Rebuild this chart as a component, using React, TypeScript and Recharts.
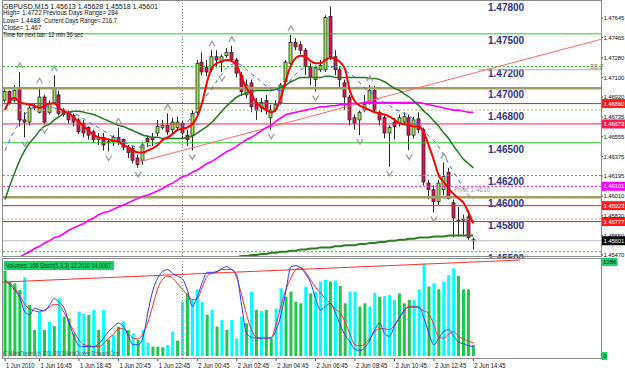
import React from 'react';
import { ComposedChart, Bar, Line, Scatter, XAxis, YAxis, ReferenceLine, Cell } from 'recharts';

const FONT = '"Liberation Sans", Arial, sans-serif';

// GBPUSD M15, bars from 1 Jun 15:00 to 2 Jun 14:45
const openP = [
  1.4689, 1.4697, 1.4689, 1.4700, 1.4671, 1.4669, 1.4682, 1.4678, 1.4692, 1.4678,
  1.4687, 1.4694, 1.4680, 1.4677, 1.4675, 1.4671, 1.4668, 1.4664, 1.4660, 1.4653,
  1.4655, 1.4651, 1.4651, 1.4655, 1.4653, 1.4646, 1.4645, 1.4636, 1.4634, 1.4654,
  1.4655, 1.4659, 1.4664, 1.4666, 1.4662, 1.4664, 1.4668, 1.4657, 1.4657, 1.4678,
  1.4724, 1.4719, 1.4717, 1.4729, 1.4724, 1.4730, 1.4733, 1.4726, 1.4712, 1.4694,
  1.4705, 1.4687, 1.4682, 1.4689, 1.4673, 1.4680, 1.4687, 1.4706, 1.4723, 1.4742,
  1.4740, 1.4735, 1.4720, 1.4708, 1.4717, 1.4717, 1.4766, 1.4729, 1.4717, 1.4705,
  1.4692, 1.4673, 1.4671, 1.4680, 1.4687, 1.4698, 1.4678, 1.4673, 1.4659, 1.4669,
  1.4668, 1.4669, 1.4673, 1.4657, 1.4672, 1.4662, 1.4613, 1.4607, 1.4596, 1.4607,
  1.4623, 1.4595, 1.4579, 1.4580, 1.4582, 1.4561,
];
const highP = [
  1.4700, 1.4698, 1.4703, 1.4715, 1.4678, 1.4684, 1.4686, 1.4701, 1.4694, 1.4689,
  1.4712, 1.4698, 1.4682, 1.4680, 1.4677, 1.4673, 1.4671, 1.4665, 1.4662, 1.4659,
  1.4659, 1.4654, 1.4657, 1.4664, 1.4654, 1.4648, 1.4647, 1.4639, 1.4650, 1.4657,
  1.4659, 1.4671, 1.4671, 1.4677, 1.4673, 1.4674, 1.4671, 1.4662, 1.4680, 1.4726,
  1.4733, 1.4726, 1.4735, 1.4735, 1.4731, 1.4737, 1.4739, 1.4728, 1.4715, 1.4708,
  1.4708, 1.4691, 1.4691, 1.4694, 1.4685, 1.4689, 1.4705, 1.4726, 1.4749, 1.4746,
  1.4743, 1.4737, 1.4723, 1.4721, 1.4726, 1.4767, 1.4775, 1.4735, 1.4719, 1.4708,
  1.4694, 1.4676, 1.4680, 1.4694, 1.4703, 1.4702, 1.4680, 1.4676, 1.4666, 1.4673,
  1.4676, 1.4678, 1.4676, 1.4674, 1.4678, 1.4664, 1.4616, 1.4611, 1.4616, 1.4632,
  1.4627, 1.4598, 1.4591, 1.4584, 1.4588, 1.4563,
];
const lowP = [
  1.4687, 1.4685, 1.4687, 1.4665, 1.4655, 1.4666, 1.4680, 1.4677, 1.4667, 1.4676,
  1.4686, 1.4675, 1.4674, 1.4668, 1.4665, 1.4658, 1.4655, 1.4653, 1.4650, 1.4648,
  1.4643, 1.4642, 1.4647, 1.4648, 1.4643, 1.4636, 1.4631, 1.4627, 1.4630, 1.4646,
  1.4647, 1.4656, 1.4662, 1.4657, 1.4659, 1.4662, 1.4653, 1.4647, 1.4643, 1.4676,
  1.4712, 1.4711, 1.4715, 1.4719, 1.4715, 1.4728, 1.4724, 1.4710, 1.4693, 1.4691,
  1.4678, 1.4671, 1.4678, 1.4676, 1.4662, 1.4678, 1.4685, 1.4703, 1.4721, 1.4735,
  1.4731, 1.4712, 1.4703, 1.4697, 1.4715, 1.4715, 1.4726, 1.4712, 1.4700, 1.4680,
  1.4666, 1.4662, 1.4657, 1.4678, 1.4685, 1.4678, 1.4666, 1.4654, 1.4628, 1.4653,
  1.4665, 1.4667, 1.4643, 1.4654, 1.4659, 1.4611, 1.4598, 1.4586, 1.4593, 1.4602,
  1.4598, 1.4563, 1.4564, 1.4564, 1.4561, 1.4552,
];
const closeP = [
  1.4697, 1.4687, 1.4698, 1.4671, 1.4669, 1.4682, 1.4683, 1.4692, 1.4669, 1.4686,
  1.4700, 1.4677, 1.4676, 1.4671, 1.4669, 1.4660, 1.4659, 1.4657, 1.4653, 1.4655,
  1.4648, 1.4650, 1.4655, 1.4651, 1.4646, 1.4641, 1.4634, 1.4630, 1.4648, 1.4651,
  1.4653, 1.4665, 1.4666, 1.4660, 1.4669, 1.4669, 1.4659, 1.4653, 1.4677, 1.4723,
  1.4715, 1.4715, 1.4729, 1.4726, 1.4729, 1.4733, 1.4726, 1.4714, 1.4697, 1.4703,
  1.4683, 1.4680, 1.4687, 1.4680, 1.4680, 1.4685, 1.4703, 1.4724, 1.4742, 1.4738,
  1.4735, 1.4720, 1.4710, 1.4719, 1.4721, 1.4765, 1.4729, 1.4717, 1.4708, 1.4692,
  1.4671, 1.4668, 1.4678, 1.4685, 1.4698, 1.4680, 1.4671, 1.4659, 1.4664, 1.4665,
  1.4673, 1.4674, 1.4657, 1.4671, 1.4662, 1.4614, 1.4607, 1.4596, 1.4613, 1.4619,
  1.4599, 1.4581, 1.4578, 1.4579, 1.4563, 1.4560,
];

// moving averages
const maFast = [
  1.4680, 1.4689, 1.4691, 1.4687, 1.4686, 1.4685, 1.4684, 1.4682, 1.4684, 1.4686,
  1.4686, 1.4682, 1.4679, 1.4677, 1.4673, 1.4669, 1.4665, 1.4661, 1.4657, 1.4655,
  1.4654, 1.4653, 1.4652, 1.4651, 1.4648, 1.4646, 1.4643, 1.4641, 1.4641, 1.4643,
  1.4645, 1.4648, 1.4653, 1.4655, 1.4658, 1.4662, 1.4663, 1.4664, 1.4667, 1.4674,
  1.4687, 1.4706, 1.4719, 1.4723, 1.4725, 1.4726, 1.4725, 1.4721, 1.4710, 1.4700,
  1.4694, 1.4687, 1.4683, 1.4680, 1.4678, 1.4681, 1.4692, 1.4708, 1.4721, 1.4728,
  1.4730, 1.4729, 1.4725, 1.4723, 1.4723, 1.4726, 1.4728, 1.4727, 1.4724, 1.4717,
  1.4697, 1.4688, 1.4684, 1.4682, 1.4680, 1.4678, 1.4677, 1.4676, 1.4674, 1.4671,
  1.4668, 1.4667, 1.4666, 1.4665, 1.4665, 1.4659, 1.4647, 1.4634, 1.4620, 1.4614,
  1.4608, 1.4603, 1.4599, 1.4595, 1.4586, 1.4576,
];
const maSlow = [
  1.4598, 1.4611, 1.4623, 1.4634, 1.4643, 1.4650, 1.4655, 1.4661, 1.4665, 1.4667,
  1.4671, 1.4674, 1.4677, 1.4678, 1.4679, 1.4679, 1.4678, 1.4677, 1.4676, 1.4674,
  1.4672, 1.4670, 1.4668, 1.4666, 1.4665, 1.4663, 1.4661, 1.4659, 1.4657, 1.4656,
  1.4655, 1.4655, 1.4654, 1.4654, 1.4654, 1.4654, 1.4654, 1.4655, 1.4656, 1.4659,
  1.4662, 1.4665, 1.4669, 1.4674, 1.4679, 1.4684, 1.4688, 1.4692, 1.4694, 1.4696,
  1.4697, 1.4698, 1.4698, 1.4698, 1.4698, 1.4699, 1.4701, 1.4703, 1.4706, 1.4708,
  1.4710, 1.4710, 1.4710, 1.4710, 1.4710, 1.4711, 1.4711, 1.4710, 1.4710, 1.4710,
  1.4710, 1.4710, 1.4710, 1.4710, 1.4709, 1.4709, 1.4708, 1.4706, 1.4703, 1.4700,
  1.4698, 1.4695, 1.4692, 1.4688, 1.4684, 1.4679, 1.4675, 1.4670, 1.4665, 1.4659,
  1.4654, 1.4647, 1.4641, 1.4635, 1.4631, 1.4627,
];
const maLong = [
  null, null, null, 1.4545, 1.4548, 1.4550, 1.4553, 1.4555, 1.4558, 1.4560,
  1.4563, 1.4564, 1.4567, 1.4570, 1.4572, 1.4574, 1.4576, 1.4579, 1.4581, 1.4584,
  1.4586, 1.4587, 1.4589, 1.4591, 1.4593, 1.4595, 1.4597, 1.4599, 1.4601, 1.4602,
  1.4604, 1.4606, 1.4608, 1.4611, 1.4613, 1.4616, 1.4619, 1.4620, 1.4623, 1.4625,
  1.4628, 1.4631, 1.4633, 1.4636, 1.4639, 1.4642, 1.4644, 1.4647, 1.4650, 1.4653,
  1.4655, 1.4658, 1.4661, 1.4664, 1.4666, 1.4670, 1.4673, 1.4676, 1.4677, 1.4678,
  1.4679, 1.4680, 1.4681, 1.4682, 1.4683, 1.4683, 1.4684, 1.4684, 1.4685, 1.4685,
  1.4686, 1.4686, 1.4686, 1.4687, 1.4687, 1.4687, 1.4687, 1.4687, 1.4687, 1.4687,
  1.4687, 1.4687, 1.4687, 1.4687, 1.4687, 1.4686, 1.4685, 1.4684, 1.4683, 1.4682,
  1.4681, 1.4680, 1.4680, 1.4679, 1.4678, 1.4678,
];
const maDash = [
  1.4643, 1.4653, 1.4662, 1.4669, 1.4676, 1.4680, 1.4683, 1.4684, 1.4684, 1.4683,
  1.4682, 1.4681, 1.4680, 1.4678, 1.4677, 1.4675, 1.4672, 1.4669, 1.4666, 1.4664,
  1.4661, 1.4658, 1.4655, 1.4653, 1.4651, 1.4649, 1.4647, 1.4646, 1.4646, 1.4647,
  1.4648, 1.4650, 1.4652, 1.4654, 1.4657, 1.4661, 1.4665, 1.4669, 1.4675, 1.4681,
  1.4687, 1.4694, 1.4700, 1.4707, 1.4713, 1.4719, 1.4722, 1.4723, 1.4721, 1.4717,
  1.4713, 1.4710, 1.4706, 1.4702, 1.4699, 1.4698, 1.4698, 1.4702, 1.4708, 1.4713,
  1.4717, 1.4719, 1.4719, 1.4718, 1.4717, 1.4717, 1.4719, 1.4720, 1.4719, 1.4717,
  1.4713, 1.4710, 1.4705, 1.4700, 1.4697, 1.4693, 1.4689, 1.4687, 1.4684, 1.4681,
  1.4679, 1.4677, 1.4675, 1.4671, 1.4666, 1.4661, 1.4656, 1.4652, 1.4646, 1.4639,
  1.4631, 1.4623, 1.4616, 1.4608, 1.4602, 1.4598,
];
const maBase = [
  null, null, null, null, null, null, null, null, null, null,
  null, null, null, null, null, null, null, null, null, null,
  null, null, null, null, null, null, null, null, null, null,
  null, null, null, null, null, null, null, null, null, null,
  null, null, null, null, null, null, 1.4544, 1.4545, 1.4546, 1.4546,
  1.4547, 1.4547, 1.4548, 1.4548, 1.4549, 1.4549, 1.4550, 1.4550, 1.4551, 1.4551,
  1.4552, 1.4552, 1.4553, 1.4553, 1.4554, 1.4554, 1.4554, 1.4555, 1.4555, 1.4556,
  1.4556, 1.4556, 1.4557, 1.4557, 1.4558, 1.4558, 1.4559, 1.4559, 1.4560, 1.4560,
  1.4561, 1.4561, 1.4562, 1.4562, 1.4563, 1.4563, 1.4563, 1.4564, 1.4564, 1.4564,
  1.4565, 1.4565, 1.4565, 1.4565, 1.4565, 1.4565,
];

const upFractals = [3, 7, 10, 23, 33, 42, 46, 58, 66, 74, 89];
const downFractals = [4, 8, 21, 27, 38, 44, 54, 63, 72, 78, 82, 87];

// lower panel
const volumes = [
  1167, 1017, 994, 903, 1076, 698, 356, 607, 356, 470,
  410, 789, 538, 515, 310, 607, 575, 561, 629, 356,
  629, 228, 287, 401, 470, 356, 310, 219, 356, 182,
  128, 128, 119, 150, 333, 210, 743, 857, 766, 912,
  743, 561, 629, 401, 492, 356, 492, 242, 538, 447,
  880, 629, 616, 629, 242, 652, 926, 812, 880, 743,
  721, 949, 857, 880, 1017, 1040, 1017, 1031, 958, 721,
  880, 880, 675, 721, 675, 866, 812, 821, 834, 766,
  857, 721, 766, 766, 912, 1268, 949, 994, 912, 1017,
  1108, 1199, 1094, 912, 912, 150,
];
const volKind = [
  'g', 'g', 'g', 'g', 'c', 'g', 'g', 'c', 'g', 'c',
  'g', 'c', 'g', 'g', 'g', 'c', 'c', 'g', 'c', 'g',
  'c', 'g', 'c', 'g', 'c', 'g', 'c', 'g', 'c', 'c',
  'g', 'g', 'g', 'c', 'c', 'g', 'c', 'g', 'c', 'c',
  'c', 'g', 'c', 'g', 'c', 'g', 'c', 'c', 'c', 'g',
  'c', 'g', 'c', 'g', 'g', 'c', 'c', 'g', 'g', 'g',
  'g', 'c', 'g', 'c', 'c', 'c', 'g', 'c', 'g', 'g',
  'c', 'c', 'g', 'g', 'c', 'c', 'g', 'c', 'c', 'c',
  'g', 'g', 'g', 'c', 'c', 'c', 'g', 'c', 'g', 'c',
  'c', 'c', 'g', 'g', 'g', 'g',
];
const stochMain = [
  81, 76, 70, 62, 47, 44, 51, 49, 48, 54,
  61, 57, 51, 35, 21, 11, 10, 10, 10, 13,
  19, 26, 31, 35, 32, 21, 12, 12, 20, 47,
  70, 83, 90, 92, 88, 85, 82, 70, 53, 63,
  78, 89, 89, 90, 93, 95, 92, 86, 54, 24,
  20, 19, 19, 19, 19, 28, 44, 70, 95, 96,
  94, 87, 78, 61, 49, 53, 56, 46, 33, 22,
  15, 7, 6, 9, 17, 28, 35, 24, 21, 32,
  41, 49, 52, 52, 52, 40, 24, 12, 19, 26,
  28, 21, 15, 13, 11, 10,
];
const stochSignal = [
  78, 77, 72, 64, 55, 50, 48, 47, 49, 52,
  55, 54, 46, 36, 26, 17, 12, 11, 10, 10,
  13, 19, 23, 29, 29, 24, 19, 18, 24, 36,
  54, 72, 82, 85, 83, 77, 71, 65, 60, 61,
  73, 85, 88, 89, 92, 92, 92, 83, 65, 44,
  28, 20, 19, 19, 20, 34, 54, 71, 83, 92,
  94, 89, 81, 73, 67, 61, 56, 50, 46, 36,
  23, 12, 11, 13, 19, 26, 29, 29, 28, 33,
  40, 48, 53, 53, 51, 48, 45, 33, 20, 19,
  23, 26, 21, 18, 16, 14,
];

const tickIdx = [0, 7, 15, 23, 31, 39, 47, 55, 63, 71, 79, 87, 95];
const tickLabels = [
  '1 Jun 2010', '1 Jun 16:45', '1 Jun 18:45', '1 Jun 20:45', '1 Jun 22:45',
  '2 Jun 00:45', '2 Jun 02:45', '2 Jun 04:45', '2 Jun 06:45', '2 Jun 08:45',
  '2 Jun 10:45', '2 Jun 12:45', '2 Jun 14:45',
];
const axisPrices = [
  1.47645, 1.47465, 1.4728, 1.471, 1.4692, 1.46735, 1.46555,
  1.46375, 1.46195, 1.4601, 1.4583, 1.4565, 1.4547,
];

// round-number levels with their text tags
const roundLevels = [1.478, 1.475, 1.472, 1.47, 1.468, 1.465, 1.462, 1.46, 1.458, 1.455];
const roundKind = ['none', 'green', 'greenDot', 'khaki', 'khakiDot', 'green', 'greenDot', 'khaki', 'khakiDot', 'greenDot'];
// pivot lines with their price tags
const pivotLevels = [1.4686, 1.46673, 1.46101, 1.45923, 1.45777];
const pivotColor = ['#ff1a1a', '#ff1a50', '#ff00ff', '#ff1a1a', '#ff1a1a'];
const lastPrice = 1.45601;
const fiboLevel = [{ x: 96, y: 1.4717 }, { x: 120.9, y: 1.4717 }];
const trendMain = [{ x: 26.8, y: 1.4632 }, { x: 120.9, y: 1.4745 }];
const trendLow = [{ x: -0.4, y: 78.7 }, { x: 104.5, y: 102.1 }];

const PRICE_DOMAIN = [1.45461, 1.47783];
const BAR_DOMAIN = [-0.41, 120.9];
const VOL_DOMAIN = [-27, 1327];
const STOCH_DOMAIN = [-2.1, 103.2];

const mainData = openP.map((o, i) => ({
  i, o, h: highP[i], l: lowP[i], c: closeP[i], hl: [lowP[i], highP[i]],
  fast: maFast[i], slow: maSlow[i], long: maLong[i], dash: maDash[i], base: maBase[i],
}));
const upData = upFractals.map(i => ({ i, p: highP[i] }));
const downData = downFractals.map(i => ({ i, p: lowP[i] }));
const lowData = volumes.map((v, i) => ({ i, v, sm: stochMain[i], ss: stochSignal[i] }));

const kindStyle: any = {
  none: { stroke: 'none' },
  green: { stroke: '#22cc22', strokeWidth: 1 },
  greenDot: { stroke: '#22cc22', strokeWidth: 1, strokeDasharray: '2 2' },
  khaki: { stroke: '#a39c64', strokeWidth: 2.5 },
  khakiDot: { stroke: '#c8bc7a', strokeWidth: 1, strokeDasharray: '2 2' },
};

const Candle = (props: any) => {
  const { x, y, width, height, payload } = props;
  if (!payload || !isFinite(y) || !isFinite(height)) return <g />;
  const top = Math.min(y, y + height);
  const span = Math.abs(height);
  const k = span / (payload.h - payload.l || 1);
  const cx = Math.floor(x + width / 2) + 0.5;
  const yo = top + (payload.h - payload.o) * k;
  const yc = top + (payload.h - payload.c) * k;
  const bull = payload.c >= payload.o;
  return (
    <g>
      <line x1={cx} x2={cx} y1={top} y2={top + span} stroke="#2a2a2a" />
      <rect
        x={cx - 1.5} y={Math.min(yo, yc)} width={3} height={Math.max(Math.abs(yc - yo), 1)}
        fill={bull ? '#9be648' : '#e5124d'} stroke="#2a2a2a" strokeWidth={0.8}
      />
    </g>
  );
};

const FractalUp = ({ cx, cy }: any) => (
  <path d={`M${cx - 3},${cy - 4} L${cx},${cy - 9} L${cx + 3},${cy - 4}`} fill="none" stroke="#9c9c9c" strokeWidth={1.3} />
);
const FractalDown = ({ cx, cy }: any) => (
  <path d={`M${cx - 3},${cy + 4} L${cx},${cy + 9} L${cx + 3},${cy + 4}`} fill="none" stroke="#9c9c9c" strokeWidth={1.3} />
);

const PriceTick = ({ x, y, payload }: any) => (
  <g>
    <line x1={x} x2={x + 2} y1={y} y2={y} stroke="#333" />
    <text x={x + 2.5} y={y + 2.2} fontSize={6} letterSpacing={-0.15} fontFamily={FONT} fill="#111">
      {payload.value.toFixed(5)}
    </text>
  </g>
);

const VolTick = ({ x, y, payload }: any) => {
  const t = String(payload.value);
  const w = t.length * 3.4 + 2;
  return (
    <g>
      <rect x={x + 1} y={y - 4} width={w} height={8} fill="#19d36a" />
      <text x={x + 2} y={y + 2.2} fontSize={6} fontFamily={FONT} fill="#111">{t}</text>
    </g>
  );
};

const TimeTick = ({ x, y, payload }: any) => {
  const label = tickLabels[tickIdx.indexOf(payload.value)] ?? '';
  return (
    <g>
      <line x1={x} x2={x} y1={y} y2={y + 3} stroke="#444" />
      <text x={x + 1} y={y + 10} fontSize={7} fontFamily={FONT} fill="#111" textLength={label.length * 2.85} lengthAdjust="spacingAndGlyphs">
        {label}
      </text>
    </g>
  );
};

const levelTag = (text: string) => (p: any) => (
  <text x={p.viewBox.x + 485} y={p.viewBox.y + 10} fontSize={10} fontWeight="bold" fill="#33338c" fontFamily={FONT}>{text}</text>
);

const priceBox = (text: string, bg: string) => (p: any) => {
  const x = p.viewBox.x + p.viewBox.width;
  const y = p.viewBox.y;
  return (
    <g>
      <rect x={x + 1} y={y - 4.5} width={23} height={9} fill={bg} />
      <text x={x + 2.5} y={y + 2.2} fontSize={6} letterSpacing={-0.15} fontFamily={FONT} fill="#fff">{text}</text>
    </g>
  );
};

const pivotTag = (p: any) => (
  <text x={p.viewBox.x + 451} y={p.viewBox.y + 6} fontSize={6.5} fontFamily={FONT} fill="#9a9a9a">Pivot 1.4610</text>
);

export default function App() {
  return (
    <div style={{ position: 'absolute', left: 0, top: 0, width: 625, height: 370, background: '#fff', overflow: 'hidden' }}>
      <div style={{ position: 'absolute', left: 0, top: 0 }}>
        <ComposedChart width={625} height={258} data={mainData} margin={{ top: 3, right: 0, bottom: 2, left: 3 }}>
          <XAxis dataKey="i" type="number" domain={BAR_DOMAIN} hide allowDataOverflow />
          <YAxis
            yAxisId="p" orientation="right" width={24} domain={PRICE_DOMAIN} allowDataOverflow
            ticks={axisPrices} interval={0} tick={PriceTick} tickLine={false} axisLine={false} tickSize={0} tickMargin={0}
          />
          {roundLevels.map((lv, k) => (
            <ReferenceLine
              key={`r${k}`} yAxisId="p" y={lv} ifOverflow="visible" {...kindStyle[roundKind[k]]}
              label={levelTag(lv.toFixed(5))}
            />
          ))}
          <ReferenceLine yAxisId="p" segment={fiboLevel} stroke="#b0b0b0" ifOverflow="visible" />
          {pivotLevels.map((lv, k) => (
            <ReferenceLine
              key={`p${k}`} yAxisId="p" y={lv} stroke={pivotColor[k]}
              strokeDasharray={k === 2 ? '2 2' : undefined}
              label={k === 2 ? (p: any) => <g>{pivotTag(p)}{priceBox(lv.toFixed(5), pivotColor[k])(p)}</g> : priceBox(lv.toFixed(5), pivotColor[k])}
            />
          ))}
          <ReferenceLine yAxisId="p" y={lastPrice} stroke="#bdbdbd" label={priceBox(lastPrice.toFixed(5), '#000')} />
          <ReferenceLine yAxisId="p" x={36} stroke="#8a8a8a" strokeDasharray="1 2" />
          <ReferenceLine yAxisId="p" segment={trendMain} stroke="#ff6a6a" ifOverflow="visible" />
          <Line yAxisId="p" dataKey="long" stroke="#ff00ff" strokeWidth={1.6} dot={false} isAnimationActive={false} connectNulls={false} />
          <Line yAxisId="p" dataKey="base" stroke="#2e7d22" strokeWidth={2} dot={false} isAnimationActive={false} />
          <Line yAxisId="p" dataKey="slow" stroke="#1f7a1f" strokeWidth={1.5} dot={false} isAnimationActive={false} type="monotone" />
          <Line yAxisId="p" dataKey="dash" stroke="#3a5cff" strokeWidth={1} strokeDasharray="4 4" dot={false} isAnimationActive={false} type="monotone" />
          <Bar yAxisId="p" dataKey="hl" barSize={5} shape={Candle} isAnimationActive={false} />
          <Line yAxisId="p" dataKey="fast" stroke="#ff0000" strokeWidth={2} dot={false} isAnimationActive={false} type="monotone" />
          <Scatter yAxisId="p" data={upData} dataKey="p" shape={FractalUp} isAnimationActive={false} />
          <Scatter yAxisId="p" data={downData} dataKey="p" shape={FractalDown} isAnimationActive={false} />
        </ComposedChart>
      </div>
      <div style={{ position: 'absolute', left: 0, top: 258 }}>
        <ComposedChart width={625} height={112} data={lowData} margin={{ top: 1, right: 0, bottom: 0, left: 3 }}>
          <XAxis
            dataKey="i" type="number" domain={BAR_DOMAIN} allowDataOverflow ticks={tickIdx} interval={0}
            height={12} tick={TimeTick} tickLine={false} axisLine={false} tickSize={0} tickMargin={0}
          />
          <YAxis
            yAxisId="v" orientation="right" width={24} domain={VOL_DOMAIN} allowDataOverflow ticks={[0, 1286]}
            interval={0} tick={VolTick} tickLine={false} axisLine={false} tickSize={0} tickMargin={0}
          />
          <YAxis yAxisId="s" hide domain={STOCH_DOMAIN} allowDataOverflow />
          <ReferenceLine yAxisId="v" x={36} stroke="#8a8a8a" strokeDasharray="1 2" />
          <Bar yAxisId="v" dataKey="v" barSize={3} isAnimationActive={false}>
            {lowData.map((d, k) => (
              <Cell key={k} fill={volKind[k] === 'c' ? '#00ffff' : '#1ec84a'} />
            ))}
          </Bar>
          <ReferenceLine yAxisId="s" segment={trendLow} stroke="#ff3030" />
          <Line yAxisId="s" dataKey="ss" stroke="#ff2a2a" strokeWidth={1} dot={false} isAnimationActive={false} type="monotone" />
          <Line yAxisId="s" dataKey="sm" stroke="#2a3cff" strokeWidth={1} dot={false} isAnimationActive={false} type="monotone" />
        </ComposedChart>
      </div>
      <svg width={625} height={370} style={{ position: 'absolute', left: 0, top: 0, pointerEvents: 'none' }} fontFamily={FONT}>
        <rect x={2.5} y={0.5} width={599} height={256} fill="none" stroke="#8c8c8c" />
        <rect x={2.5} y={258.5} width={599} height={100} fill="none" stroke="#8c8c8c" />
        <g fontSize={6.5} fill="#111">
          <text x={3} y={8.5} fontSize={7} textLength={155} lengthAdjust="spacingAndGlyphs">GBPUSD,M15  1.45613 1.45628 1.45518 1.45601</text>
          <text x={3} y={15}>High= 1.4722</text>
          <text x={43} y={15} textLength={75} lengthAdjust="spacingAndGlyphs">Previous Days Range= 284</text>
          <text x={3} y={23}>Low= 1.4488</text>
          <text x={44} y={23} textLength={73} lengthAdjust="spacingAndGlyphs">Current Days Range= 216.7</text>
          <text x={3} y={30}>Close= 1.467</text>
          <text x={3} y={36.5} textLength={80} lengthAdjust="spacingAndGlyphs">Time for next bar: 12 min 36 sec</text>
        </g>
        <text x={590} y={69} fontSize={7} fill="#777">38.2</text>
        <rect x={4} y={261} width={110} height={9} fill="#19d36a" />
        <text x={6} y={268} fontSize={7} fill="#0b3d1a" textLength={105} lengthAdjust="spacingAndGlyphs">Volumes: 166  Stoch(5,3,3) 12.2010 14.0067</text>
        <text x={3} y={356} fontSize={6.5} fill="#555" textLength={118} lengthAdjust="spacingAndGlyphs">(C) MetaTrader, (c) 2001-2010 MetaQuotes Software Corp.</text>
      </svg>
    </div>
  );
}
